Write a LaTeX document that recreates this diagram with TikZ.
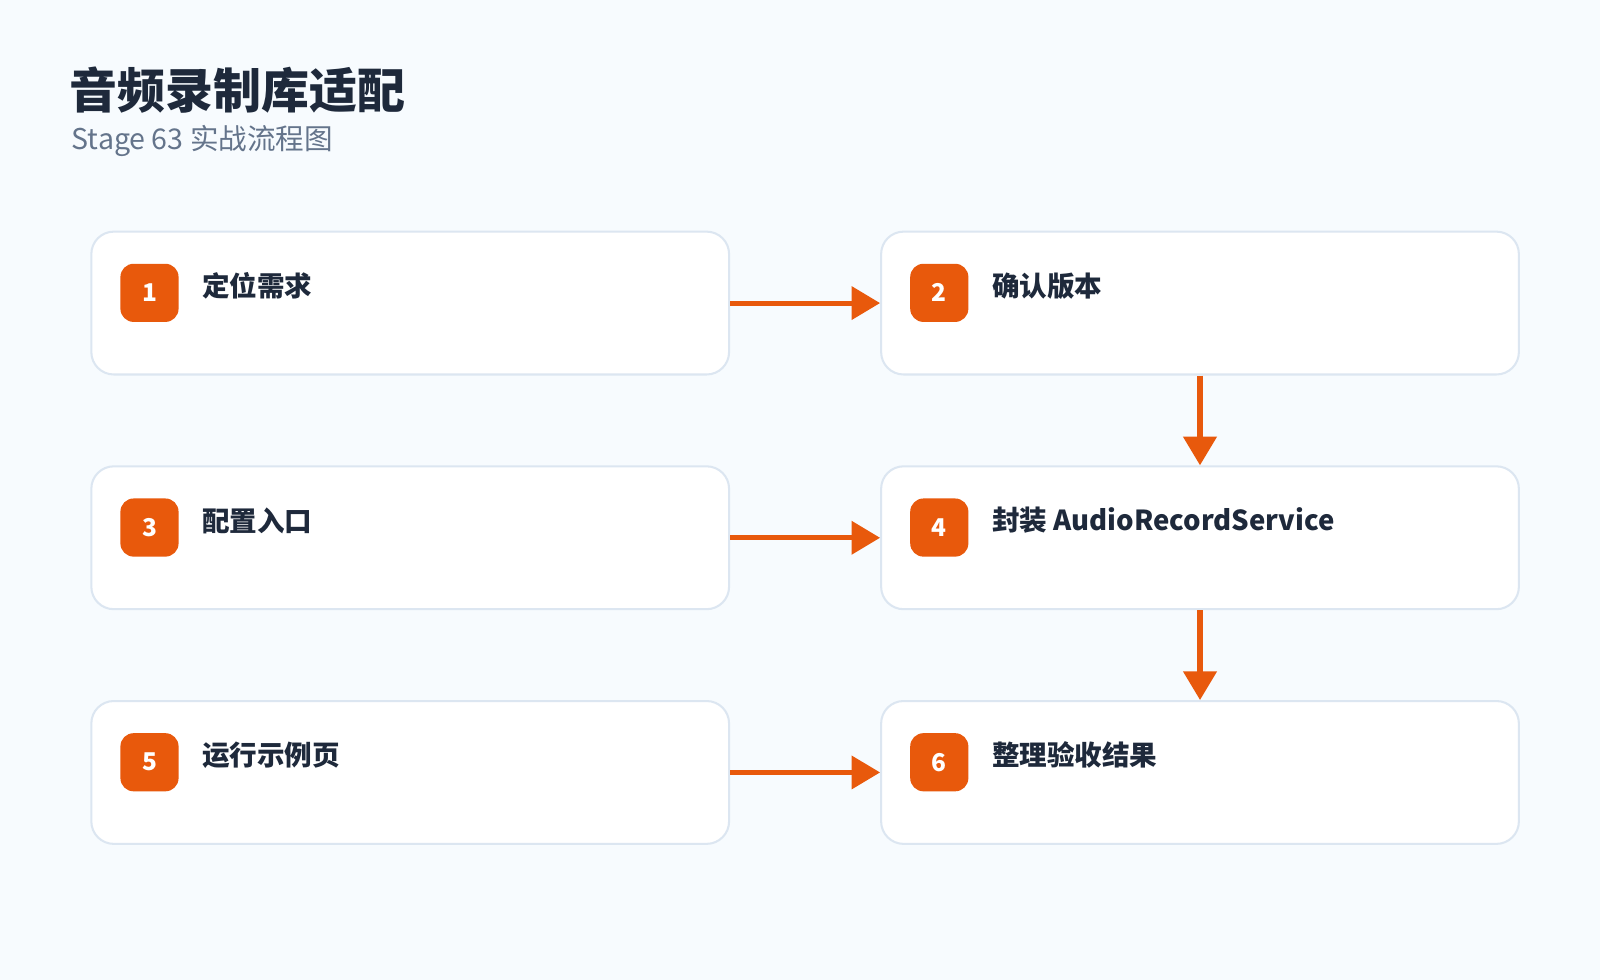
\documentclass[tikz,border=0pt]{standalone}
\usepackage{fontspec}
\setmainfont{Noto Sans CJK SC}
\usetikzlibrary{arrows.meta}
\definecolor{bg}{HTML}{F7FBFE}
\definecolor{bd}{HTML}{DCE6F1}
\definecolor{org}{HTML}{E8590C}
\definecolor{ink}{HTML}{1E293B}
\definecolor{sub}{HTML}{64748B}
\begin{document}
\begin{tikzpicture}[x=1pt,y=-1pt,
 box/.style={draw=bd,line width=2pt,fill=white,rounded corners=22pt,minimum width=625pt,minimum height=140pt,inner sep=0pt},
 badge/.style={fill=org,rounded corners=13pt,minimum size=57pt,inner sep=0pt,text=white,font=\fontsize{24}{24}\selectfont\bfseries},
 lbl/.style={anchor=west,text=ink,font=\fontsize{27}{30}\selectfont\bfseries,inner sep=0pt},
 arr/.style={draw=org,line width=5pt,-{Triangle[length=28pt,width=32pt]}}]
\path[fill=bg] (0,0) rectangle (1568,960);
\useasboundingbox (0,0) rectangle (1568,960);
\node[anchor=west,inner sep=0pt,text=ink,font=\fontsize{47}{50}\selectfont\bfseries] (title) at (68,88) {音频录制库适配};
\node[anchor=west,inner sep=0pt,text=sub,font=\fontsize{28}{30}\selectfont] (subt) at (70,138) {Stage 63 实战流程图};
\foreach \n/\x/\y/\t in {1/402/297/定位需求,2/1176/297/确认版本,3/402/527/配置入口,4/1176/527/封装 AudioRecordService,5/402/757/运行示例页,6/1176/757/整理验收结果}{
 \node[box] (b\n) at (\x,\y) {};
 \node[badge] (k\n) at (\x-255.5,\y-10) {\n};
 \node[lbl] (t\n) at (\x-204,\y-17) {\t};
}
\draw[arr] (b1.east) -- (b2.west);
\draw[arr] (b3.east) -- (b4.west);
\draw[arr] (b5.east) -- (b6.west);
\draw[arr] (b2.south) -- (b4.north);
\draw[arr] (b4.south) -- (b6.north);
\end{tikzpicture}
\end{document}
